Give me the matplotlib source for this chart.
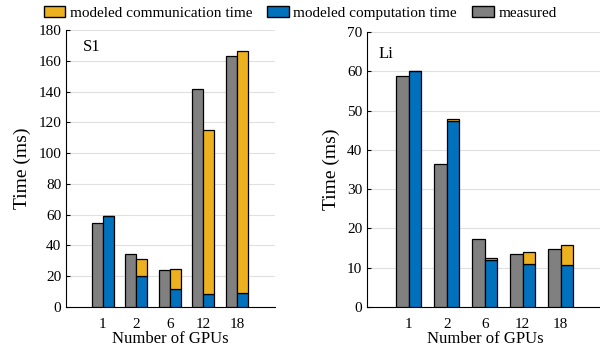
import numpy as np
import matplotlib.pyplot as plt
from matplotlib.patches import Patch

plt.rcParams['font.family'] = ['Liberation Serif', 'DejaVu Serif']

gpus = ["1", "2", "6", "12", "18"]

# S1 (ms)
s1_measured = [54.5, 34.4, 23.8, 141.4, 162.8]
s1_comp = [59.0, 20.1, 11.7, 8.4, 9.1]
s1_total = [59.0, 31.4, 24.7, 115.0, 166.5]

# Li (ms)
li_measured = [58.8, 36.3, 17.2, 13.5, 14.7]
li_comp = [60.2, 47.3, 11.9, 10.9, 10.6]
li_total = [60.2, 47.8, 12.4, 14.1, 15.9]

c_comm = "#EDB120"
c_comp = "#0072BD"
c_meas = "#808080"

fig = plt.figure(figsize=(6, 3.48), dpi=100)
ax1 = fig.add_axes([66/600, 1-307/348, 209/600, 277/348])
ax2 = fig.add_axes([367/600, 1-307/348, 237/600, 275/348])

def draw(ax, measured, comp, total, ymax, step, label, lx, ly):
    x = np.arange(1, len(gpus) + 1)
    w = 0.33
    comm = np.array(total) - np.array(comp)
    ax.bar(x - w/2, measured, w, color=c_meas, edgecolor="black", linewidth=0.9, zorder=3)
    ax.bar(x + w/2, comp, w, color=c_comp, edgecolor="black", linewidth=0.9, zorder=3)
    ax.bar(x + w/2, comm, w, bottom=comp, color=c_comm, edgecolor="black", linewidth=0.9, zorder=3)
    ax.set_xlim(-0.1, 6.14)
    ax.set_ylim(0, ymax)
    ax.set_yticks(np.arange(0, ymax + 1, step))
    ax.set_xticks(x)
    ax.set_xticklabels(gpus)
    ax.tick_params(axis="x", length=0, labelsize=11, pad=8)
    ax.tick_params(axis="y", direction="in", length=3, labelsize=11)
    ax.spines["top"].set_visible(False)
    ax.spines["right"].set_visible(False)
    ax.grid(axis="y", color="#e0e0e0", linewidth=0.8, zorder=0)
    ax.set_xlabel("Number of GPUs", fontsize=12, labelpad=0)
    ax.set_ylabel("Time (ms)", fontsize=14, labelpad=5)
    ax.text(lx, ly, label, transform=ax.transAxes, fontsize=12, va="center")

draw(ax1, s1_measured, s1_comp, s1_total, 180, 20, "S1", 0.08, 0.94)
draw(ax2, li_measured, li_comp, li_total, 70, 10, "Li", 0.05, 0.92)

handles = [Patch(facecolor=c_comm, edgecolor="black", label="modeled communication time"),
           Patch(facecolor=c_comp, edgecolor="black", label="modeled computation time"),
           Patch(facecolor=c_meas, edgecolor="black", label="measured")]
fig.legend(handles=handles, loc="center", bbox_to_anchor=(0.5, 1-13/348), ncol=3,
           frameon=False, fontsize=11, handlelength=1.4, handleheight=0.7,
           handletextpad=0.3, columnspacing=1.0)

fig.savefig("out.png", dpi=100)
